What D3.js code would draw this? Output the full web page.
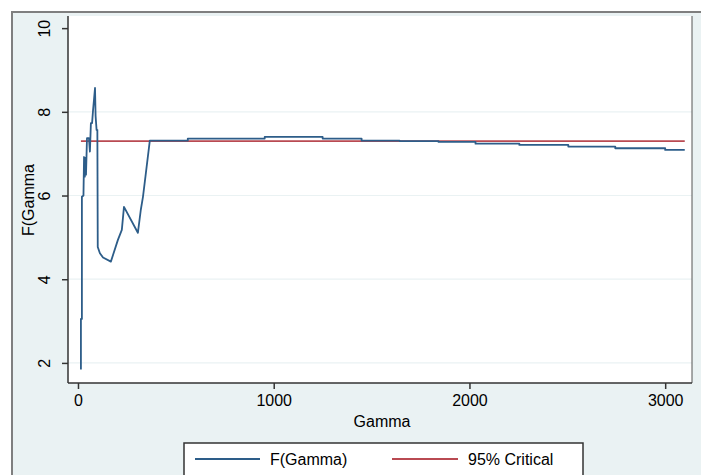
<!DOCTYPE html>
<html>
<head>
<meta charset="utf-8">
<script src="https://cdn.jsdelivr.net/npm/d3@7"></script>
<style>
  body { margin: 0; background: #fff; }
  svg text { font-family: "Liberation Sans", Arial, sans-serif; fill: #000; }
</style>
</head>
<body>
<svg id="chart" width="701" height="475"></svg>
<script>
// F(Gamma) curve
var gammaVals = [15, 15, 20, 20, 28, 31, 35, 38, 41, 46, 56, 61, 66, 72, 77, 82, 87, 90, 95, 99,
  101, 112, 128, 168, 204, 224, 235, 306, 321, 332, 347, 367,
  561, 561, 954, 954, 1250, 1250, 1449, 1449, 1643, 1643, 1842, 1842, 2031, 2031,
  2255, 2255, 2505, 2505, 2745, 2745, 3000, 3000, 3100];
var fVals = [1.84, 3.05, 3.05, 5.97, 6.0, 6.92, 6.45, 6.9, 6.5, 7.37, 7.37, 7.05, 7.73, 7.73, 8.04, 8.3, 8.57, 7.9, 7.57, 7.57,
  4.77, 4.62, 4.52, 4.42, 4.94, 5.18, 5.73, 5.11, 5.66, 5.97, 6.54, 7.31,
  7.31, 7.36, 7.36, 7.40, 7.40, 7.36, 7.36, 7.31, 7.31, 7.30, 7.30, 7.28, 7.28, 7.24,
  7.24, 7.21, 7.21, 7.17, 7.17, 7.13, 7.13, 7.09, 7.09];
var critGamma = [15, 3100];
var critVals = [7.3, 7.3];
var xTicks = [0, 1000, 2000, 3000];
var yTicks = [2, 4, 6, 8, 10];
var legendLabels = ["F(Gamma)", "95% Critical"];

var blue = "#2d5d89", red = "#b94a52";

var svg = d3.select("#chart");

// outer graph region
svg.append("rect").attr("x", 12).attr("y", 12).attr("width", 720).attr("height", 480)
  .attr("fill", "#eaf2f3").attr("stroke", "#7f7f7f").attr("stroke-width", 2);

var pLeft = 68, pRight = 692, pTop = 16, pBottom = 383;
svg.append("rect").attr("x", pLeft).attr("y", pTop).attr("width", pRight - pLeft).attr("height", pBottom - pTop)
  .attr("fill", "#fff");

var x = d3.scaleLinear().domain([-51, 3137]).range([pLeft, pRight]);
var y = d3.scaleLinear().domain([1.52, 10.29]).range([pBottom, pTop]);

// gridlines
svg.append("g").selectAll("line").data(yTicks.filter(function(d) { return d < 10; })).enter().append("line")
  .attr("x1", pLeft).attr("x2", pRight)
  .attr("y1", function(d) { return y(d); }).attr("y2", function(d) { return y(d); })
  .attr("stroke", "#eaf2f3").attr("stroke-width", 1.2);

// right edge line
svg.append("line").attr("x1", pRight).attr("x2", pRight).attr("y1", pTop).attr("y2", pBottom)
  .attr("stroke", "#555").attr("stroke-width", 1);

// critical line
var line = d3.line().x(function(d) { return x(d[0]); }).y(function(d) { return y(d[1]); });
svg.append("path").datum(d3.zip(critGamma, critVals)).attr("d", line)
  .attr("fill", "none").attr("stroke", red).attr("stroke-width", 1.6);

// F(Gamma)
svg.append("path").datum(d3.zip(gammaVals, fVals)).attr("d", line)
  .attr("fill", "none").attr("stroke", blue).attr("stroke-width", 1.8).attr("stroke-linejoin", "round");

// axes
var yAxis = svg.append("g").attr("transform", "translate(" + pLeft + ",0)")
  .call(d3.axisLeft(y).tickValues(yTicks).tickSize(6).tickPadding(0).tickFormat(d3.format("d")));
yAxis.select(".domain").attr("stroke", "#333").attr("stroke-width", 1.5).attr("d", "M0," + pTop + "V" + pBottom);
yAxis.selectAll(".tick line").attr("stroke", "#333").attr("stroke-width", 1.5);
yAxis.selectAll(".tick text").attr("font-size", 16).attr("text-anchor", "middle")
  .attr("x", 0).attr("dy", 0)
  .attr("transform", "translate(-18,0) rotate(-90)")
  .style("font-family", "'Liberation Sans', Arial, sans-serif");

var xAxis = svg.append("g").attr("transform", "translate(0," + pBottom + ")")
  .call(d3.axisBottom(x).tickValues(xTicks).tickSize(6).tickPadding(6).tickFormat(d3.format("d")));
xAxis.select(".domain").attr("stroke", "#333").attr("stroke-width", 1.5).attr("d", "M" + pLeft + ",0H" + pRight);
xAxis.selectAll(".tick line").attr("stroke", "#333").attr("stroke-width", 1.5);
xAxis.selectAll(".tick text").attr("font-size", 16)
  .style("font-family", "'Liberation Sans', Arial, sans-serif");

// axis titles
svg.append("text").attr("x", 382).attr("y", 427).attr("text-anchor", "middle")
  .attr("font-size", 16).text("Gamma");
svg.append("text").attr("transform", "translate(34,200) rotate(-90)").attr("text-anchor", "middle")
  .attr("font-size", 16).text("F(Gamma");

// legend
var lg = svg.append("g");
lg.append("rect").attr("x", 184).attr("y", 443).attr("width", 399).attr("height", 50)
  .attr("fill", "#fff").attr("stroke", "#333").attr("stroke-width", 1.5);
var items = [{ x1: 195, x2: 260, c: blue, label: legendLabels[0] }, { x1: 392, x2: 458, c: red, label: legendLabels[1] }];
items.forEach(function(it) {
  lg.append("line").attr("x1", it.x1).attr("x2", it.x2).attr("y1", 459).attr("y2", 459)
    .attr("stroke", it.c).attr("stroke-width", 1.8);
  lg.append("text").attr("x", it.x2 + 10).attr("y", 465).attr("font-size", 16).text(it.label);
});
</script>
</body>
</html>
